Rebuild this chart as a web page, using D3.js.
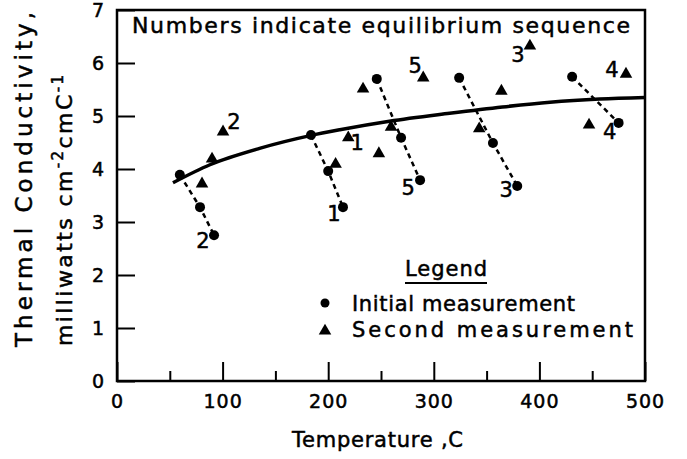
<!DOCTYPE html>
<html>
<head>
<meta charset="utf-8">
<script src="https://cdn.jsdelivr.net/npm/d3@7/dist/d3.min.js"></script>
<style>
  html, body { margin: 0; padding: 0; background: #fff; }
  svg { display: block; }
  text { font-family: "DejaVu Sans", "Liberation Sans", sans-serif; fill: #000; stroke: #000; stroke-width: 0.5px; }
</style>
</head>
<body>
<div id="chart"></div>
<script>
// Thermal conductivity vs. temperature, with initial and second measurements
const xTicks = [0, 100, 200, 300, 400, 500];
const xMinorTicks = [50, 150, 250, 350, 450];
const yTicks = [0, 1, 2, 3, 4, 5, 6, 7];

// Equilibrium sequences of initial measurements (temperature, conductivity)
const sequenceNumbers = ["2", "1", "5", "3", "4"];
const initialTemps = [[59.5, 78.6, 91.9], [183.7, 200, 214], [246, 269, 287], [324, 356, 379], [431, 475]];
const initialK = [[3.89, 3.28, 2.75], [4.64, 3.96, 3.28], [5.70, 4.59, 3.79], [5.72, 4.49, 3.68], [5.74, 4.87]];

// Second measurements
const secondTemps = [80.5, 90, 100.4, 207, 219, 233, 248, 259.5, 290, 343, 364, 391, 447, 482];
const secondK = [3.74, 4.21, 4.72, 4.11, 4.61, 5.53, 4.31, 4.81, 5.74, 4.78, 5.49, 6.34, 4.85, 5.81];
const secondLabelIndex = [2, 4, 8, 11, 13];
const secondLabels = ["2", "1", "5", "3", "4"];

// Smooth trend curve
const curveTemps = [53, 88, 135, 183, 211, 258, 315, 365, 410, 457, 500];
const curveK = [3.74, 4.08, 4.39, 4.63, 4.74, 4.90, 5.05, 5.17, 5.26, 5.32, 5.35];

// Label offsets in pixels (placement only)
const initialLabelOffsets = [[-11, 6], [-9, 7], [-12, 8], [-11, 4], [-9, 9]];
const secondLabelOffsets = [[11, -9], [9, 6], [-8, -11], [-12, 10], [-14, -3]];

const W = 687, H = 459;
const plotL = 117, plotR = 645, plotT = 10, plotB = 381;

const svg = d3.select("#chart").append("svg").attr("width", W).attr("height", H);

const x = d3.scaleLinear().domain([0, 500]).range([plotL, plotR]);
const y = d3.scaleLinear().domain([0, 7]).range([plotB, plotT]);

// Frame
svg.append("rect")
  .attr("x", plotL).attr("y", plotT)
  .attr("width", plotR - plotL).attr("height", plotB - plotT)
  .attr("fill", "none").attr("stroke", "#000").attr("stroke-width", 2.5);

// X axis: major and minor ticks pointing inward
const xAxis = svg.append("g").attr("transform", `translate(0,${plotB})`)
  .call(d3.axisBottom(x).tickValues(xTicks).tickSizeInner(-19).tickSizeOuter(0).tickPadding(14).tickFormat(d3.format("d")));
const xMinor = svg.append("g").attr("transform", `translate(0,${plotB})`)
  .call(d3.axisBottom(x).tickValues(xMinorTicks).tickSizeInner(-10).tickSizeOuter(0).tickFormat(""));

const yAxis = svg.append("g").attr("transform", `translate(${plotL},0)`)
  .call(d3.axisLeft(y).tickValues(yTicks).tickSizeInner(-18).tickSizeOuter(0).tickPadding(12).tickFormat(d3.format("d")));

[xAxis, xMinor, yAxis].forEach(g => {
  g.select(".domain").remove();
  g.selectAll(".tick line").attr("stroke", "#000").attr("stroke-width", 2);
});
[xAxis, yAxis].forEach(g => {
  g.selectAll(".tick text")
    .style("font-family", "'DejaVu Sans', sans-serif")
    .style("font-size", "19px")
    .style("letter-spacing", "1px")
    .attr("fill", "#000");
});

// Trend curve
const line = d3.line().x(d => x(d[0])).y(d => y(d[1])).curve(d3.curveMonotoneX);
svg.append("path")
  .datum(curveTemps.map((t, i) => [t, curveK[i]]))
  .attr("d", line)
  .attr("fill", "none").attr("stroke", "#000").attr("stroke-width", 3.5);

// Dashed connectors for each equilibrium sequence
const seqLine = d3.line().x(d => x(d[0])).y(d => y(d[1]));
initialTemps.forEach((temps, s) => {
  const pts = temps.map((t, i) => [t, initialK[s][i]]);
  svg.append("path")
    .datum(pts)
    .attr("d", seqLine)
    .attr("fill", "none").attr("stroke", "#000")
    .attr("stroke-width", 2.5).attr("stroke-dasharray", "5,4");
});

// Initial measurements: circles
const initialPts = [];
initialTemps.forEach((temps, s) => temps.forEach((t, i) => initialPts.push([t, initialK[s][i]])));
svg.append("g").selectAll("circle").data(initialPts).join("circle")
  .attr("cx", d => x(d[0])).attr("cy", d => y(d[1])).attr("r", 5).attr("fill", "#000");

// Second measurements: triangles
const tri = d3.symbol().type(d3.symbolTriangle).size(68);
svg.append("g").selectAll("path").data(secondTemps.map((t, i) => [t, secondK[i]])).join("path")
  .attr("d", tri)
  .attr("transform", d => `translate(${x(d[0])},${y(d[1]) + 1})`)
  .attr("fill", "#000");

// Sequence numbers
const labelStyle = sel => sel.attr("font-size", 21).attr("text-anchor", "middle").attr("dominant-baseline", "central");
initialTemps.forEach((temps, s) => {
  const last = temps.length - 1;
  svg.append("text").call(labelStyle)
    .attr("x", x(temps[last]) + initialLabelOffsets[s][0])
    .attr("y", y(initialK[s][last]) + initialLabelOffsets[s][1])
    .text(sequenceNumbers[s]);
});
secondLabelIndex.forEach((idx, j) => {
  svg.append("text").call(labelStyle)
    .attr("x", x(secondTemps[idx]) + secondLabelOffsets[j][0])
    .attr("y", y(secondK[idx]) + secondLabelOffsets[j][1])
    .text(secondLabels[j]);
});

// Note at the top
svg.append("text")
  .attr("x", 132).attr("y", 33)
  .attr("font-size", 22)
  .attr("textLength", 498).attr("lengthAdjust", "spacing")
  .text("Numbers indicate equilibrium sequence");

// Legend
const lgX = 325;
svg.append("text").attr("x", 405).attr("y", 276).attr("font-size", 21)
  .attr("textLength", 82).attr("lengthAdjust", "spacing").text("Legend");
svg.append("line").attr("x1", 405).attr("x2", 487).attr("y1", 283).attr("y2", 283)
  .attr("stroke", "#000").attr("stroke-width", 2);
svg.append("circle").attr("cx", lgX).attr("cy", 303).attr("r", 4.5).attr("fill", "#000");
svg.append("text").attr("x", 352).attr("y", 311).attr("font-size", 21)
  .attr("textLength", 223).attr("lengthAdjust", "spacing").text("Initial measurement");
svg.append("path").attr("d", tri).attr("transform", `translate(${lgX},331)`).attr("fill", "#000");
svg.append("text").attr("x", 352).attr("y", 337).attr("font-size", 21)
  .attr("textLength", 281).attr("lengthAdjust", "spacing").text("Second measurement");

// Axis titles
svg.append("text")
  .attr("x", 292).attr("y", 447).attr("font-size", 21)
  .attr("textLength", 171).attr("lengthAdjust", "spacing")
  .text("Temperature ,C");

svg.append("text")
  .attr("transform", "translate(32,347) rotate(-90)")
  .attr("font-size", 23)
  .attr("textLength", 335).attr("lengthAdjust", "spacing")
  .text("Thermal Conductivity,");

const yl2 = svg.append("text")
  .attr("transform", "translate(72,346) rotate(-90)")
  .attr("font-size", 22)
  .style("letter-spacing", "2.4px");
yl2.append("tspan").text("milliwatts cm");
yl2.append("tspan").attr("dy", -9).attr("font-size", 15).text("-2");
yl2.append("tspan").attr("dy", 9).text("cmC");
yl2.append("tspan").attr("dy", -9).attr("font-size", 15).text("-1");
</script>
</body>
</html>
